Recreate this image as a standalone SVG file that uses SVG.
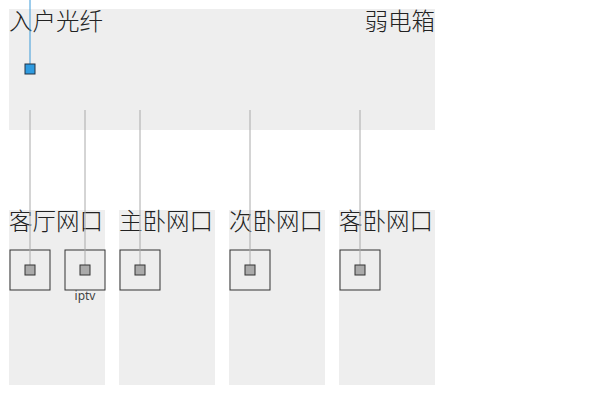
<svg xmlns="http://www.w3.org/2000/svg" width="610" height="400" viewBox="0 0 610 400">
<style>
.p{fill:#eeeeee}
.t{font-family:"Noto Sans CJK SC","Noto Sans",sans-serif;font-size:23.5px;font-weight:300;fill:#222}
.o{fill:none;stroke:#333;stroke-width:1}
.i{fill:#aaaaaa;stroke:#333;stroke-width:1}
.c{stroke:#aaa;stroke-width:1;fill:none}
</style>
<rect width="610" height="400" fill="#fff"/>
<g id="box"><rect class="p" x="9" y="9" width="426" height="121"/>
<text class="t" x="9" y="30">入户光纤</text><text class="t" x="435" y="30" text-anchor="end">弱电箱</text></g>
<g id="r1"><rect class="p" x="9" y="210" width="96" height="175"/><text class="t" x="9" y="230">客厅网口</text>
<rect class="o" x="10" y="250" width="40" height="40"/><rect class="o" x="65" y="250" width="40" height="40"/>
<text x="85" y="300" text-anchor="middle" font-family="Noto Sans,sans-serif" font-size="12" fill="#444">iptv</text></g>
<g id="r2"><rect class="p" x="119" y="210" width="96" height="175"/><text class="t" x="119" y="230">主卧网口</text><rect class="o" x="120" y="250" width="40" height="40"/></g>
<g id="r3"><rect class="p" x="229" y="210" width="96" height="175"/><text class="t" x="229" y="230">次卧网口</text><rect class="o" x="230" y="250" width="40" height="40"/></g>
<g id="r4"><rect class="p" x="339" y="210" width="96" height="175"/><text class="t" x="339" y="230">客卧网口</text><rect class="o" x="340" y="250" width="40" height="40"/></g>
<g id="connectors">
<line x1="30" y1="0" x2="30" y2="64" stroke="#3a9ad9" stroke-width="1"/>
<line class="c" x1="30" y1="110" x2="30" y2="265"/><line class="c" x1="85" y1="110" x2="85" y2="265"/>
<line class="c" x1="140" y1="110" x2="140" y2="265"/><line class="c" x1="250" y1="110" x2="250" y2="265"/>
<line class="c" x1="360" y1="110" x2="360" y2="265"/>
</g>
<g id="ports">
<rect x="25" y="64" width="10" height="10" fill="#2f9be0" stroke="#234" stroke-width="1"/>
<rect class="i" x="25" y="265" width="10" height="10"/><rect class="i" x="80" y="265" width="10" height="10"/>
<rect class="i" x="135" y="265" width="10" height="10"/><rect class="i" x="245" y="265" width="10" height="10"/>
<rect class="i" x="355" y="265" width="10" height="10"/>
</g>
</svg>
